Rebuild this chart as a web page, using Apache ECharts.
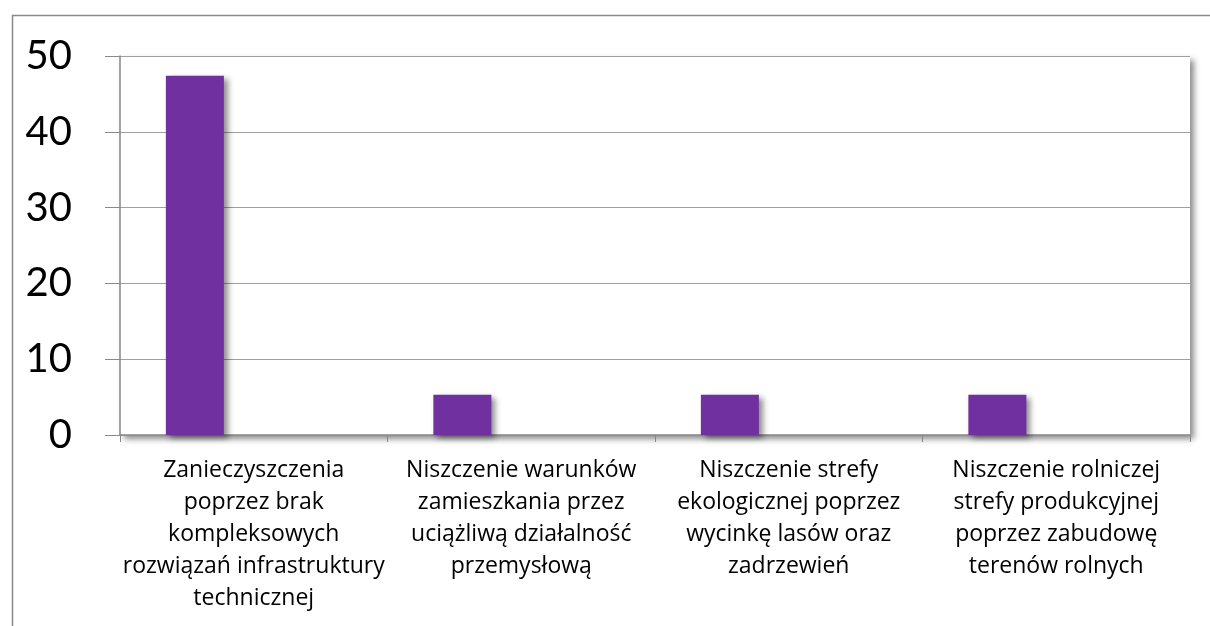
<!DOCTYPE html>
<html>
<head>
<meta charset="utf-8">
<script src="https://cdn.jsdelivr.net/npm/echarts@6/dist/echarts.min.js"></script>
<style>
  html, body { margin: 0; padding: 0; background: #fff; }
  #chart { width: 1210px; height: 626px; }
</style>
</head>
<body>
<div id="chart"></div>
<script>
// kategorie (zawinięte jak w oryginale)
var categories = [
    'Zanieczyszczenia\npoprzez brak\nkompleksowych\nrozwiązań infrastruktury\ntechnicznej',
    'Niszczenie warunków\nzamieszkania przez\nuciążliwą działalność\nprzemysłową',
    'Niszczenie strefy\nekologicznej poprzez\nwycinkę lasów oraz\nzadrzewień',
    'Niszczenie rolniczej\nstrefy produkcyjnej\npoprzez zabudowę\nterenów rolnych'
];
var values = [47.4, 5.3, 5.3, 5.3];
// druga seria pusta (w oryginale zajmuje miejsce obok słupka)
var emptyValues = ['-', '-', '-', '-'];

var myChart = echarts.init(document.getElementById('chart'));

var option = {
    backgroundColor: '#fff',
    animation: false,
    graphic: [{
        type: 'rect',
        left: 10,
        top: 13,
        shape: { width: 1300, height: 700 },
        style: { fill: 'none', stroke: '#8a8a8a', lineWidth: 1.5 },
        z: -10
    }],
    grid: {
        left: 120,
        right: 20,
        top: 56,
        bottom: 191,
        show: true,
        backgroundColor: '#fff',
        borderWidth: 0,
        shadowColor: 'rgba(0,0,0,0.45)',
        shadowBlur: 6,
        shadowOffsetX: 4,
        shadowOffsetY: 4
    },
    xAxis: {
        type: 'category',
        data: categories,
        boundaryGap: true,
        axisLine: { lineStyle: { color: '#868686', width: 1.5 } },
        axisTick: { show: true, length: 7, lineStyle: { color: '#868686' } },
        axisLabel: {
            interval: 0,
            margin: 19,
            color: '#000',
            fontFamily: '"Open Sans", sans-serif',
            fontSize: 23,
            lineHeight: 32,
            align: 'center'
        }
    },
    yAxis: {
        type: 'value',
        min: 0,
        max: 50,
        interval: 10,
        axisLine: { show: true, lineStyle: { color: '#868686', width: 1.5 } },
        axisTick: { show: true, length: 15, lineStyle: { color: '#8a8a8a' } },
        axisLabel: {
            margin: 48,
            color: '#000',
            fontFamily: 'Lato, sans-serif',
            fontSize: 40
        },
        splitLine: { lineStyle: { color: '#a0a0a0', width: 1.2 } }
    },
    series: [
        {
            type: 'bar',
            data: values,
            barWidth: 58,
            barGap: '103%',
            itemStyle: {
                color: '#7030A0',
                shadowColor: 'rgba(0,0,0,0.45)',
                shadowBlur: 6,
                shadowOffsetX: 4,
                shadowOffsetY: 3
            }
        },
        {
            type: 'bar',
            data: emptyValues,
            barWidth: 58,
            itemStyle: { color: '#7030A0' }
        }
    ]
};

myChart.setOption(option);
</script>
</body>
</html>
